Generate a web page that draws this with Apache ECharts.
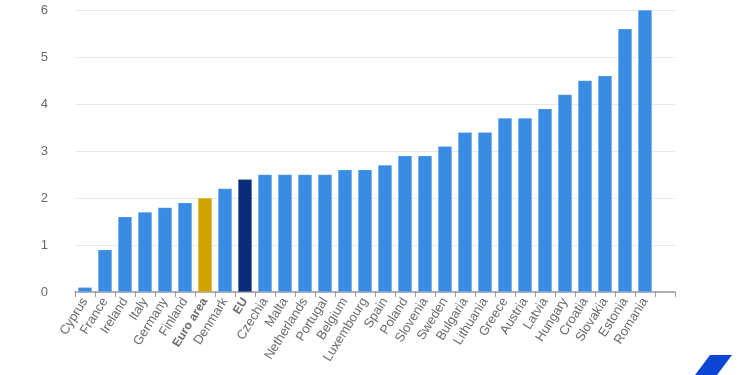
<!DOCTYPE html>
<html><head><meta charset="utf-8">
<script src="https://cdn.jsdelivr.net/npm/echarts@6/dist/echarts.min.js"></script>
<style>html,body{margin:0;padding:0;background:#fff}#c{width:750px;height:375px}</style>
</head><body><div id="c"></div>
<script>
const categories = ["Cyprus","France","Ireland","Italy","Germany","Finland","Euro area","Denmark","EU","Czechia","Malta","Netherlands","Portugal","Belgium","Luxembourg","Spain","Poland","Slovenia","Sweden","Bulgaria","Lithuania","Greece","Austria","Latvia","Hungary","Croatia","Slovakia","Estonia","Romania",""];
const values = [0.1,0.9,1.6,1.7,1.8,1.9,2.0,2.2,2.4,2.5,2.5,2.5,2.5,2.6,2.6,2.7,2.9,2.9,3.1,3.4,3.4,3.7,3.7,3.9,4.2,4.5,4.6,5.6,6.0,null];
const yTicks = [0,1,2,3,4,5,6];
const highlight = {"Euro area":"#d0a200","EU":"#0b2c78"};
const baseColor = "#3a8be3";

const chart = echarts.init(document.getElementById('c'), null, {renderer:'canvas'});
chart.setOption({
  animation:false,
  grid:{left:75,right:75,top:10,bottom:83,containLabel:false},
  xAxis:{
    type:'category',
    data:categories,
    axisLine:{lineStyle:{color:'#9a9a9a',width:1.5}},
    axisTick:{show:true,alignWithLabel:false,length:5,lineStyle:{color:'#9a9a9a'}},
    axisLabel:{
      interval:0,rotate:58,color:'#6b6b6b',fontSize:13,fontFamily:'Liberation Sans, Arial, sans-serif',margin:7,
      formatter:function(v){return (v==='Euro area'||v==='EU')?'{b|'+v+'}':v;},
      rich:{b:{fontWeight:'bold',color:'#6b6b6b',fontSize:12,fontFamily:'Liberation Sans, Arial, sans-serif'}}
    }
  },
  yAxis:{
    type:'value',min:yTicks[0],max:yTicks[yTicks.length-1],interval:1,
    axisLine:{show:false},axisTick:{show:false},
    splitLine:{lineStyle:{color:'#e3e8f3',width:1}},
    axisLabel:{color:'#6b6b6b',fontSize:13,fontFamily:'Liberation Sans, Arial, sans-serif',margin:27}
  },
  series:[{
    type:'bar',
    barWidth:14,
    data:values.map((v,i)=>({value:v,itemStyle:{color:highlight[categories[i]]||baseColor,borderColor:'rgba(255,255,255,0.35)',borderWidth:0.5}}))
  }],
  graphic:[{
    type:'polygon',
    shape:{points:[[695,375],[710,355],[732,355],[717,375]]},
    style:{fill:'#0b47d3'}
  }]
});
</script></body></html>
